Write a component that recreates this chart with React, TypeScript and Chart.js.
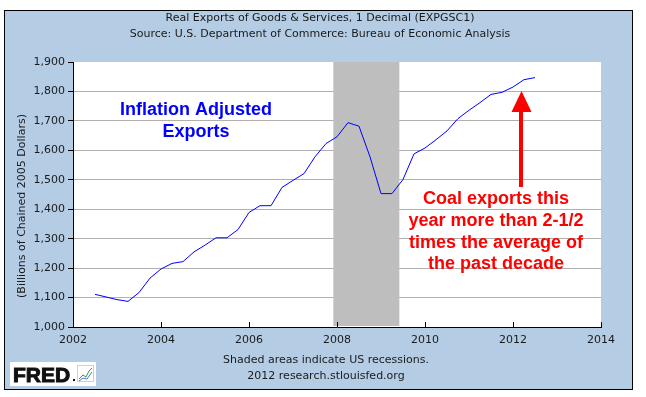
import React, { useEffect, useRef } from 'react';
import { Chart, registerables } from 'chart.js';

Chart.register(...registerables);

// ---- Data ----
const quarterLabels = [
  '2002-Q3', '2002-Q4',
  '2003-Q1', '2003-Q2', '2003-Q3', '2003-Q4',
  '2004-Q1', '2004-Q2', '2004-Q3', '2004-Q4',
  '2005-Q1', '2005-Q2', '2005-Q3', '2005-Q4',
  '2006-Q1', '2006-Q2', '2006-Q3', '2006-Q4',
  '2007-Q1', '2007-Q2', '2007-Q3', '2007-Q4',
  '2008-Q1', '2008-Q2', '2008-Q3', '2008-Q4',
  '2009-Q1', '2009-Q2', '2009-Q3', '2009-Q4',
  '2010-Q1', '2010-Q2', '2010-Q3', '2010-Q4',
  '2011-Q1', '2011-Q2', '2011-Q3', '2011-Q4',
  '2012-Q1', '2012-Q2', '2012-Q3',
];
const exportValues = [
  1111, 1102,
  1093, 1087, 1117, 1166,
  1197, 1216, 1222, 1255,
  1278, 1303, 1303, 1331,
  1389, 1412, 1412, 1474,
  1498, 1521, 1578, 1623,
  1646, 1694, 1682, 1578,
  1453, 1453, 1501, 1588,
  1608, 1636, 1666, 1708,
  1736, 1762, 1790, 1797,
  1815, 1840, 1847,
];
const xTickYears = [2002, 2004, 2006, 2008, 2010, 2012, 2014];
const yTickValues = [1000, 1100, 1200, 1300, 1400, 1500, 1600, 1700, 1800, 1900];
const recessionStartLabel = '2007-12';
const recessionEndLabel = '2009-06';
const titleLines = [
  'Real Exports of Goods & Services, 1 Decimal (EXPGSC1)',
  'Source: U.S. Department of Commerce: Bureau of Economic Analysis',
];
const yAxisTitle = '(Billions of Chained 2005 Dollars)';
const footerLines = ['Shaded areas indicate US recessions.', '2012 research.stlouisfed.org'];
const blueNote = ['Inflation Adjusted', 'Exports'];
const redNote = ['Coal exports this', 'year more than 2-1/2', 'times the average of', 'the past decade'];
const logoText = 'FRED';

const quarterToYear = (q: string) => {
  const [y, qq] = q.split('-Q');
  return Number(y) + (Number(qq) - 1) / 4;
};
const monthToYear = (m: string) => {
  const [y, mm] = m.split('-');
  return Number(y) + (Number(mm) - 1) / 12;
};

const BG = '#B4CDE4';
const SANS = '"DejaVu Sans", Verdana, sans-serif';
const ARIAL = '"Liberation Sans", Arial, sans-serif';

const decorPlugin = {
  id: 'decor',
  beforeDraw(chart: any) {
    const ctx = chart.ctx;
    const { left, top, right, bottom } = chart.chartArea;
    ctx.save();
    ctx.fillStyle = '#FFFFFF';
    ctx.fillRect(0, 0, chart.width, chart.height);
    ctx.fillStyle = BG;
    ctx.fillRect(4, 10, 629, 380);
    ctx.strokeStyle = '#000000';
    ctx.lineWidth = 1;
    ctx.strokeRect(4.5, 10.5, 628, 379);
    ctx.fillStyle = '#FFFFFF';
    ctx.fillRect(left, top, right - left, bottom - top);
    ctx.restore();
  },
  beforeDatasetsDraw(chart: any) {
    const ctx = chart.ctx;
    const xs = chart.scales.x;
    const { top, bottom } = chart.chartArea;
    const x0 = xs.getPixelForValue(monthToYear(recessionStartLabel));
    const x1 = xs.getPixelForValue(monthToYear(recessionEndLabel));
    ctx.save();
    ctx.fillStyle = '#BEBEBE';
    ctx.fillRect(x0, top, x1 - x0, bottom - top - 1);
    ctx.restore();
  },
  afterDraw(chart: any) {
    const ctx = chart.ctx;
    const xs = chart.scales.x;
    const { bottom } = chart.chartArea;
    ctx.save();
    // x tick marks pointing inward
    ctx.strokeStyle = '#000000';
    ctx.lineWidth = 1;
    xTickYears.forEach((yr) => {
      const px = Math.round(xs.getPixelForValue(yr)) + 0.5;
      ctx.beginPath();
      ctx.moveTo(px, bottom);
      ctx.lineTo(px, bottom - 5);
      ctx.stroke();
    });
    // titles
    ctx.fillStyle = '#1a1a1a';
    ctx.font = `11px ${SANS}`;
    ctx.textAlign = 'center';
    ctx.textBaseline = 'middle';
    ctx.fillText(titleLines[0], 320, 18);
    ctx.fillText(titleLines[1], 320, 34);
    // footer
    ctx.fillText(footerLines[0], 326, 360);
    ctx.fillText(footerLines[1], 326, 376);
    // y axis title
    ctx.save();
    ctx.translate(22, 206);
    ctx.rotate(-Math.PI / 2);
    ctx.fillText(yAxisTitle, 0, 0);
    ctx.restore();
    // blue annotation
    ctx.fillStyle = '#0000FF';
    ctx.font = `bold 18px ${ARIAL}`;
    ctx.fillText(blueNote[0], 196, 110);
    ctx.fillText(blueNote[1], 196, 132);
    // red annotation
    ctx.fillStyle = '#FF0000';
    const redY = [199, 221, 243, 264];
    redNote.forEach((t, i) => ctx.fillText(t, 496, redY[i]));
    // arrow
    ctx.fillRect(519, 110, 4, 77);
    ctx.beginPath();
    ctx.moveTo(521.5, 91);
    ctx.lineTo(531.5, 112);
    ctx.lineTo(511.5, 112);
    ctx.closePath();
    ctx.fill();
    // FRED logo
    ctx.fillStyle = '#FFFFFF';
    ctx.fillRect(10, 362, 86, 24);
    ctx.fillStyle = '#111111';
    ctx.strokeStyle = '#111111';
    ctx.lineWidth = 1;
    ctx.font = `bold 21px ${ARIAL}`;
    ctx.textAlign = 'left';
    ctx.textBaseline = 'alphabetic';
    ctx.fillText(logoText, 13, 382);
    ctx.strokeText(logoText, 13, 382);
    ctx.fillRect(73, 379, 2, 2);
    ctx.strokeStyle = '#d0d0d0';
    ctx.strokeRect(77.5, 365.5, 16, 16);
    ctx.strokeStyle = '#3a9a3a';
    ctx.beginPath();
    ctx.moveTo(79, 379); ctx.lineTo(83, 375); ctx.lineTo(86, 377); ctx.lineTo(89, 371); ctx.lineTo(92, 368);
    ctx.stroke();
    ctx.strokeStyle = '#4a7ad0';
    ctx.beginPath();
    ctx.moveTo(79, 381); ctx.lineTo(83, 378); ctx.lineTo(87, 379); ctx.lineTo(92, 372);
    ctx.stroke();
    ctx.restore();
  },
};

export default function App() {
  const ref = useRef<HTMLCanvasElement | null>(null);
  useEffect(() => {
    if (!ref.current) return;
    const points = quarterLabels.map((q, i) => ({ x: quarterToYear(q), y: exportValues[i] }));
    const chart = new Chart(ref.current, {
      type: 'line',
      data: {
        datasets: [
          {
            data: points,
            borderColor: '#0000FF',
            borderWidth: 1,
            pointRadius: 0,
            tension: 0,
            fill: false,
          },
        ],
      },
      options: {
        responsive: false,
        animation: false,
        devicePixelRatio: 1,
        layout: { padding: { left: 0, top: 62, right: 45, bottom: 50 } },
        plugins: { legend: { display: false }, tooltip: { enabled: false } },
        scales: {
          x: {
            type: 'linear',
            min: 2002,
            max: 2014,
            afterBuildTicks: (s: any) => {
              s.ticks = xTickYears.map((v) => ({ value: v }));
            },
            afterFit: (s: any) => {
              s.height = 20;
            },
            grid: { display: false, drawTicks: false },
            border: { display: true, color: '#000000', width: 1 },
            ticks: {
              callback: (v: any) => String(v),
              font: { family: SANS, size: 11 },
              color: '#1a1a1a',
              padding: 7,
              maxRotation: 0,
              autoSkip: false,
            },
          },
          y: {
            type: 'linear',
            min: 1000,
            max: 1900,
            afterBuildTicks: (s: any) => {
              s.ticks = yTickValues.map((v) => ({ value: v }));
            },
            afterFit: (s: any) => {
              s.width = 73;
            },
            grid: {
              color: (c: any) =>
                c.tick && (c.tick.value === 1900 || c.tick.value === 1000) ? 'rgba(0,0,0,0)' : '#B0B0B0',
              tickColor: '#000000',
              tickLength: 5,
            },
            border: { display: true, color: '#000000', width: 1 },
            ticks: {
              callback: (v: any) => Number(v).toLocaleString('en-US'),
              font: { family: SANS, size: 11 },
              color: '#1a1a1a',
              padding: 3,
            },
          },
        },
      },
      plugins: [decorPlugin],
    });
    return () => chart.destroy();
  }, []);
  return (
    <div style={{ position: 'absolute', left: 0, top: 0, width: 646, height: 397 }}>
      <canvas ref={ref} width={646} height={397} style={{ width: 646, height: 397 }} />
    </div>
  );
}
